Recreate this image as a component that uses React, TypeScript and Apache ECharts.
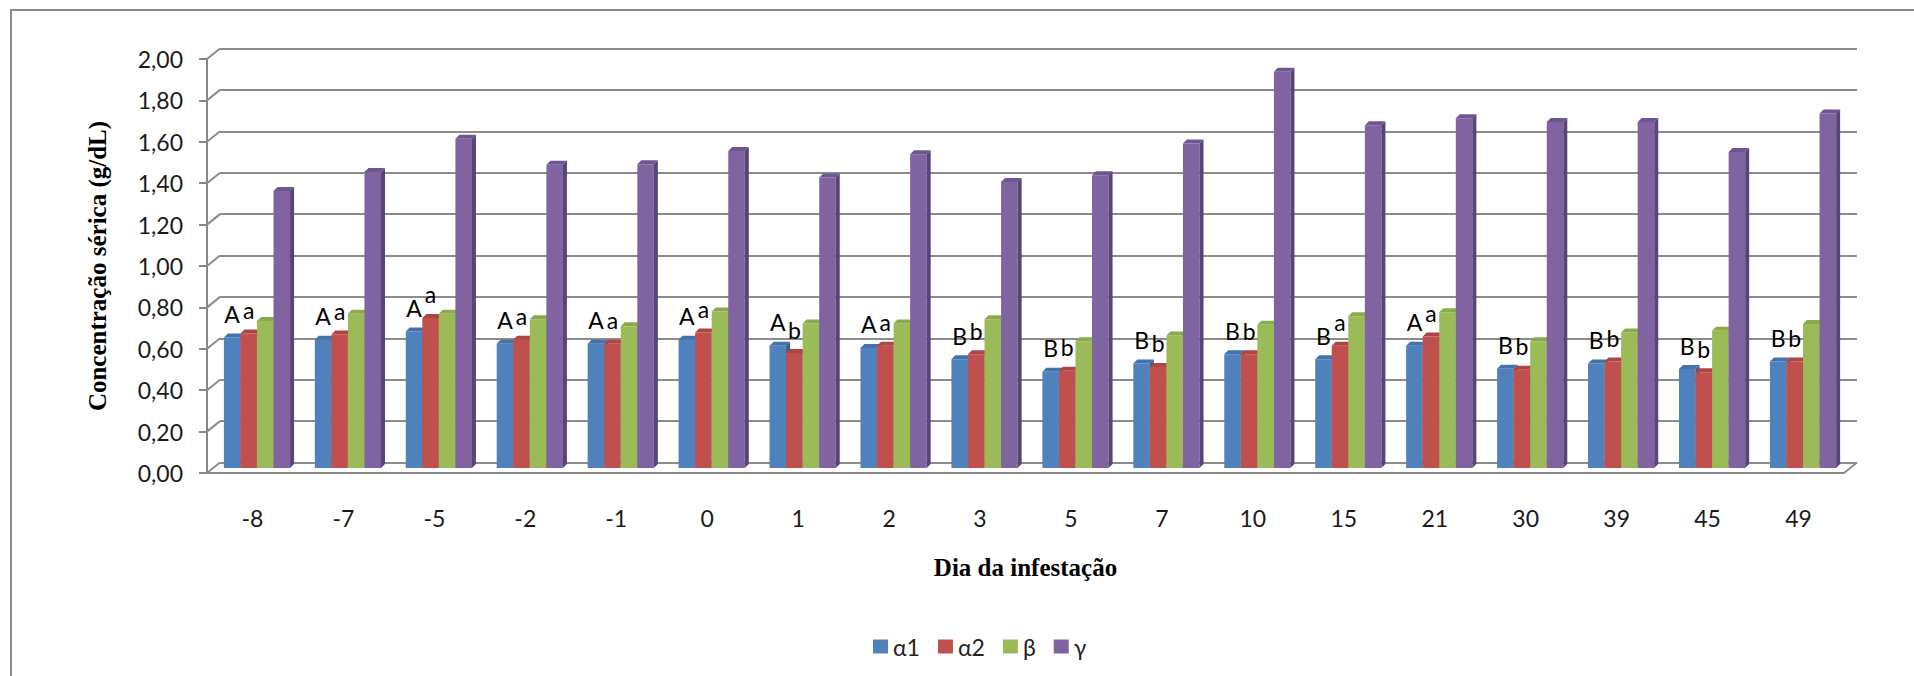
import React, { useEffect, useRef } from 'react';
import * as echarts from 'echarts';

const categories = ['-8', '-7', '-5', '-2', '-1', '0', '1', '2', '3', '5', '7', '10', '15', '21', '30', '39', '45', '49'];
const alpha1 = [0.63, 0.62, 0.66, 0.6, 0.6, 0.62, 0.59, 0.58, 0.525, 0.465, 0.505, 0.55, 0.525, 0.59, 0.48, 0.505, 0.478, 0.515];
const alpha2 = [0.65, 0.645, 0.725, 0.62, 0.6, 0.655, 0.555, 0.59, 0.55, 0.47, 0.488, 0.55, 0.59, 0.635, 0.475, 0.515, 0.462, 0.515];
const beta = [0.71, 0.745, 0.745, 0.718, 0.685, 0.756, 0.698, 0.698, 0.718, 0.612, 0.64, 0.692, 0.733, 0.752, 0.612, 0.655, 0.663, 0.696];
const gamma = [1.338, 1.43, 1.59, 1.465, 1.467, 1.532, 1.403, 1.516, 1.382, 1.414, 1.568, 1.914, 1.656, 1.69, 1.672, 1.672, 1.527, 1.713];
const upperLetters = ['A', 'A', 'A', 'A', 'A', 'A', 'A', 'A', 'B', 'B', 'B', 'B', 'B', 'A', 'B', 'B', 'B', 'B'];
const lowerLetters = ['a', 'a', 'a', 'a', 'a', 'a', 'b', 'a', 'b', 'b', 'b', 'b', 'a', 'a', 'b', 'b', 'b', 'b'];
const seriesNames = ['α1', 'α2', 'β', 'γ'];
const yTicks = [0, 0.2, 0.4, 0.6, 0.8, 1.0, 1.2, 1.4, 1.6, 1.8, 2.0];

const frontColors = ['#4F81BD', '#C0504D', '#9BBB59', '#8064A2'];
const topColors = ['#4373AD', '#AE4542', '#8BAA4B', '#6F5690'];
const sideColors = ['#38608F', '#8E3835', '#718C3C', '#584476'];

const SANS = 'Lato, "Open Sans", "DejaVu Sans", sans-serif';
const SERIF = '"Liberation Serif", "DejaVu Serif", serif';
const GRID_W = 1637;
const GRID_H = 414;

function makeBarSeries(si: number, values: number[], letters: string[] | null) {
  return {
    type: 'custom',
    name: seriesNames[si],
    xAxisIndex: 2,
    yAxisIndex: 2,
    itemStyle: { color: frontColors[si] },
    encode: { x: 0, y: 1 },
    data: values.map((v, i) => [i, v]),
    z: 3,
    renderItem: (params: any, api: any) => {
      const idx = api.value(0);
      const v = api.value(1);
      const pTop = api.coord([idx, v]);
      const pBase = api.coord([idx, 0]);
      const band = api.size([1, 0])[0];
      const w = band * 0.182;
      const d = 4;
      const groupW = 4 * w + d;
      const x = pTop[0] - groupW / 2 + si * w;
      const yT = pTop[1];
      const yB = pBase[1];
      const children: any[] = [
        {
          type: 'rect',
          shape: { x, y: yT, width: w, height: yB - yT },
          style: { fill: frontColors[si] },
        },
        {
          type: 'polygon',
          shape: { points: [[x, yT], [x + d, yT - d], [x + w + d, yT - d], [x + w, yT]] },
          style: { fill: topColors[si] },
        },
        {
          type: 'polygon',
          shape: { points: [[x + w, yT], [x + w + d, yT - d], [x + w + d, yB - d], [x + w, yB]] },
          style: { fill: sideColors[si] },
        },
      ];
      if (letters) {
        children.push({
          type: 'text',
          z2: 10,
          style: {
            text: letters[idx],
            x: x + w / 2,
            y: yT - 12,
            textAlign: 'center',
            textVerticalAlign: 'bottom',
            fill: '#000',
            font: `23px ${SANS}`,
          },
        });
      }
      return { type: 'group', children };
    },
  };
}

export default function App() {
  const ref = useRef<HTMLDivElement>(null);
  useEffect(() => {
    if (!ref.current) return;
    const chart = echarts.init(ref.current, undefined, { renderer: 'svg' });
    const axisGray = '#868686';
    const option: any = {
      animation: false,
      backgroundColor: '#ffffff',
      graphic: [
        {
          type: 'rect',
          shape: { x: 11, y: 10, width: 1950, height: 720 },
          style: { fill: 'none', stroke: '#8c8c8c', lineWidth: 2 },
          silent: true,
        },
      ],
      legend: {
        data: seriesNames,
        left: 868,
        top: 630,
        icon: 'rect',
        itemWidth: 15,
        itemHeight: 14,
        itemGap: 18,
        textStyle: { fontSize: 23, fontFamily: SANS, color: '#222' },
      },
      grid: [
        { left: 207, top: 59, width: GRID_W, height: GRID_H, outerBoundsMode: 'none' },
        { left: 220, top: 48.5, width: GRID_W, height: GRID_H, outerBoundsMode: 'none' },
        { left: 213.5, top: 54, width: GRID_W, height: GRID_H, outerBoundsMode: 'none' },
      ],
      xAxis: [
        {
          gridIndex: 0,
          type: 'category',
          data: categories,
          axisLine: { lineStyle: { color: axisGray, width: 2 } },
          axisTick: { length: 8, lineStyle: { color: axisGray, width: 2 } },
          axisLabel: { margin: 33, fontSize: 23, fontFamily: SANS, color: '#1a1a1a' },
          splitLine: { show: false },
          name: 'Dia da infestação',
          nameLocation: 'middle',
          nameGap: 82,
          nameTextStyle: { fontFamily: SERIF, fontWeight: 'bold', fontSize: 25, color: '#000' },
        },
        { gridIndex: 1, type: 'category', data: categories, show: false },
        { gridIndex: 2, type: 'category', data: categories, show: false },
      ],
      yAxis: [
        {
          gridIndex: 0,
          type: 'value',
          min: 0,
          max: 2,
          interval: 0.2,
          splitLine: { show: false },
          axisLine: { show: true, lineStyle: { color: axisGray, width: 2 } },
          axisTick: { show: true, length: 8, lineStyle: { color: axisGray, width: 2 } },
          axisLabel: {
            margin: 24,
            fontSize: 23,
            fontFamily: SANS,
            color: '#1a1a1a',
            formatter: (v: number) => v.toFixed(2).replace('.', ','),
          },
          name: 'Concentração sérica (g/dL)',
          nameLocation: 'middle',
          nameGap: 97,
          nameRotate: 90,
          nameTextStyle: { fontFamily: SERIF, fontWeight: 'bold', fontSize: 25, color: '#000' },
        },
        {
          gridIndex: 1,
          type: 'value',
          min: 0,
          max: 2,
          interval: 0.2,
          axisLine: { show: false },
          axisTick: { show: false },
          axisLabel: { show: false },
          splitLine: { show: true, lineStyle: { color: '#8c8c8c', width: 2 } },
        },
        { gridIndex: 2, type: 'value', min: 0, max: 2, interval: 0.2, show: false, splitLine: { show: false } },
      ],
      series: [
        {
          type: 'custom',
          name: 'wall',
          xAxisIndex: 0,
          yAxisIndex: 0,
          silent: true,
          encode: { x: 0, y: 1 },
          data: yTicks.map((v) => [0, v]),
          z: 1,
          renderItem: (params: any, api: any) => {
            const cs = params.coordSys;
            const v = api.value(1);
            const y = api.coord([0, v])[1];
            const children: any[] = [
              {
                type: 'line',
                shape: { x1: cs.x, y1: y, x2: cs.x + 13, y2: y - 10.5 },
                style: { stroke: '#8c8c8c', lineWidth: 2 },
              },
            ];
            if (v === 0) {
              children.push({
                type: 'line',
                shape: { x1: cs.x + cs.width, y1: y, x2: cs.x + cs.width + 13, y2: y - 10.5 },
                style: { stroke: '#8c8c8c', lineWidth: 2 },
              });
            }
            return { type: 'group', children };
          },
        },
        makeBarSeries(0, alpha1, upperLetters),
        makeBarSeries(1, alpha2, lowerLetters),
        makeBarSeries(2, beta, null),
        makeBarSeries(3, gamma, null),
      ],
    };
    chart.setOption(option);
    return () => chart.dispose();
  }, []);
  return (
    <div
      ref={ref}
      style={{ position: 'fixed', left: 0, top: 0, width: 1914, height: 676 }}
    />
  );
}
